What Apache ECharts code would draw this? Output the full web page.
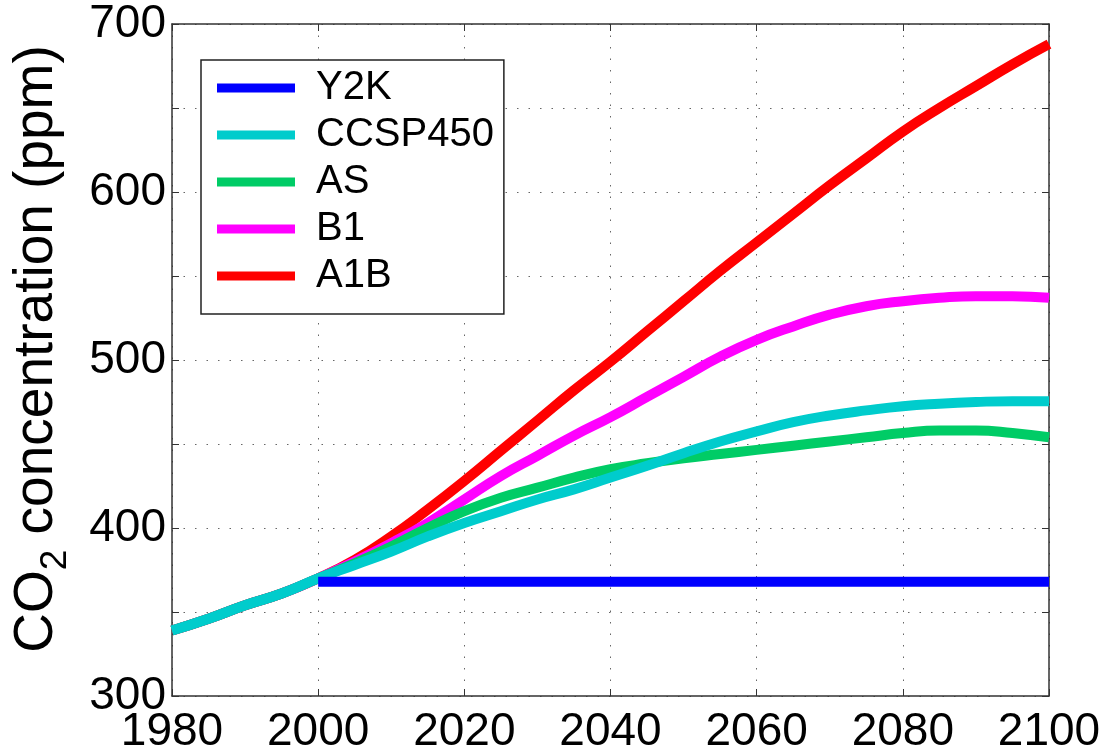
<!DOCTYPE html>
<html>
<head>
<meta charset="utf-8">
<script src="https://cdn.jsdelivr.net/npm/echarts@6/dist/echarts.min.js"></script>
<style>
  html, body { margin: 0; padding: 0; background: #fff; }
  #chart { width: 1100px; height: 749px; }
</style>
</head>
<body>
<div id="chart"></div>
<script>
// Years sampled every 5 years
const years = [1980, 1985, 1990, 1995, 2000, 2005, 2010, 2015, 2020, 2025, 2030, 2035, 2040,
               2045, 2050, 2055, 2060, 2065, 2070, 2075, 2080, 2085, 2090, 2095, 2100];

// CO2 concentration (ppm) per scenario
const y2k     = [null, null, null, null, 368, 368, 368, 368, 368, 368, 368, 368, 368,
                 368, 368, 368, 368, 368, 368, 368, 368, 368, 368, 368, 368];
const ccsp450 = [339, 346, 354, 361, 370, 378, 386, 395, 403, 410, 417, 423, 430,
                 437, 444.5, 451.5, 457.5, 463, 467, 470, 472.5, 474, 475, 475.5, 475.5];
const as      = [339, 346, 354, 361, 370, 379, 389, 400, 410, 418, 424, 430, 435,
                 438.5, 441.5, 444, 446.5, 449, 451.5, 454, 456.5, 458, 458, 456.5, 454];
const b1      = [339, 346, 354, 361, 370, 380, 391, 403, 417, 431, 443, 455, 466,
                 478, 490, 502, 512, 520, 527, 532, 535, 537, 538, 538, 537];
const a1b     = [339, 346, 354, 361, 370, 381, 395, 411, 428, 446, 464, 482, 499,
                 517, 535, 553, 570, 587, 604, 620, 636, 650, 663, 676, 688];

const seriesNames  = ['Y2K', 'CCSP450', 'AS', 'B1', 'A1B'];
const seriesColors = ['#0000ff', '#00cccc', '#00cc66', '#ff00ff', '#ff0000'];
const seriesValues = [y2k, ccsp450, as, b1, a1b];

const FONT = '"Liberation Sans", Arial, sans-serif';

function pairs(vals) {
  return years.map((yr, i) => [yr, vals[i]]);
}

// A1B is drawn first so the lower scenarios sit on top of it
const drawOrder = [4, 3, 2, 1, 0];
const series = drawOrder.map(i => ({
  name: seriesNames[i],
  type: 'line',
  data: pairs(seriesValues[i]),
  color: seriesColors[i],
  smooth: 0.5,
  showSymbol: false,
  symbol: 'none',
  connectNulls: false,
  clip: true,
  lineStyle: { width: 10, color: seriesColors[i], cap: 'butt' },
  xAxisIndex: 0,
  yAxisIndex: 0,
  animation: false
}));

const gridLine = { show: true, lineStyle: { color: '#666', width: 1, type: [1.5, 10] } };
const tickIn = { show: true, inside: true, length: 7, lineStyle: { color: '#333', width: 1 } };
const axisLn = { show: true, lineStyle: { color: '#333', width: 1.5 } };

const chart = echarts.init(document.getElementById('chart'), null, { renderer: 'canvas' });
chart.setOption({
  backgroundColor: '#ffffff',
  animation: false,
  grid: { left: 172, right: 51, top: 24, bottom: 53, containLabel: false, outerBoundsMode: 'none' },
  legend: {
    data: seriesNames,
    orient: 'vertical',
    left: 201,
    top: 60,
    itemWidth: 78,
    itemHeight: 9,
    itemGap: 7,
    icon: 'rect',
    selectedMode: false,
    backgroundColor: '#ffffff',
    borderColor: '#222',
    borderWidth: 1.5,
    borderRadius: 0,
    padding: [8, 10, 18, 16],
    textStyle: { fontFamily: FONT, fontSize: 40, color: '#000', lineHeight: 40, padding: [0, 0, 0, 16] }
  },
  xAxis: [{
    type: 'value', min: 1980, max: 2100, interval: 20, position: 'bottom',
    axisLine: axisLn, axisTick: tickIn, splitLine: gridLine,
    axisLabel: { fontFamily: FONT, fontSize: 46, color: '#000', margin: 13, formatter: v => String(v) }
  }, {
    type: 'value', min: 1980, max: 2100, interval: 20, position: 'top',
    axisLine: axisLn, axisTick: tickIn, splitLine: { show: false }, axisLabel: { show: false }
  }],
  yAxis: [{
    type: 'value', min: 300, max: 700, interval: 50, position: 'left',
    axisLine: axisLn, axisTick: tickIn, splitLine: gridLine,
    axisLabel: {
      fontFamily: FONT, fontSize: 46, color: '#000', margin: 6,
      formatter: v => (v % 100 === 0 ? String(v) : '')
    },
    name: '{c|CO}{s|2}{a| concentration (ppm)}',
    nameLocation: 'middle',
    nameRotate: 90,
    nameGap: 98,
    nameTextStyle: {
      fontFamily: FONT, color: '#000',
      rich: {
        c: { fontFamily: FONT, fontSize: 55, lineHeight: 74, color: '#000', padding: [0, 0, 0, 22] },
        a: { fontFamily: FONT, fontSize: 55, lineHeight: 74, color: '#000' },
        s: { fontFamily: FONT, fontSize: 37, lineHeight: 37, verticalAlign: 'bottom', color: '#000' }
      }
    }
  }, {
    type: 'value', min: 300, max: 700, interval: 50, position: 'right',
    axisLine: axisLn, axisTick: tickIn, splitLine: { show: false }, axisLabel: { show: false }
  }],
  series: series
});
</script>
</body>
</html>
